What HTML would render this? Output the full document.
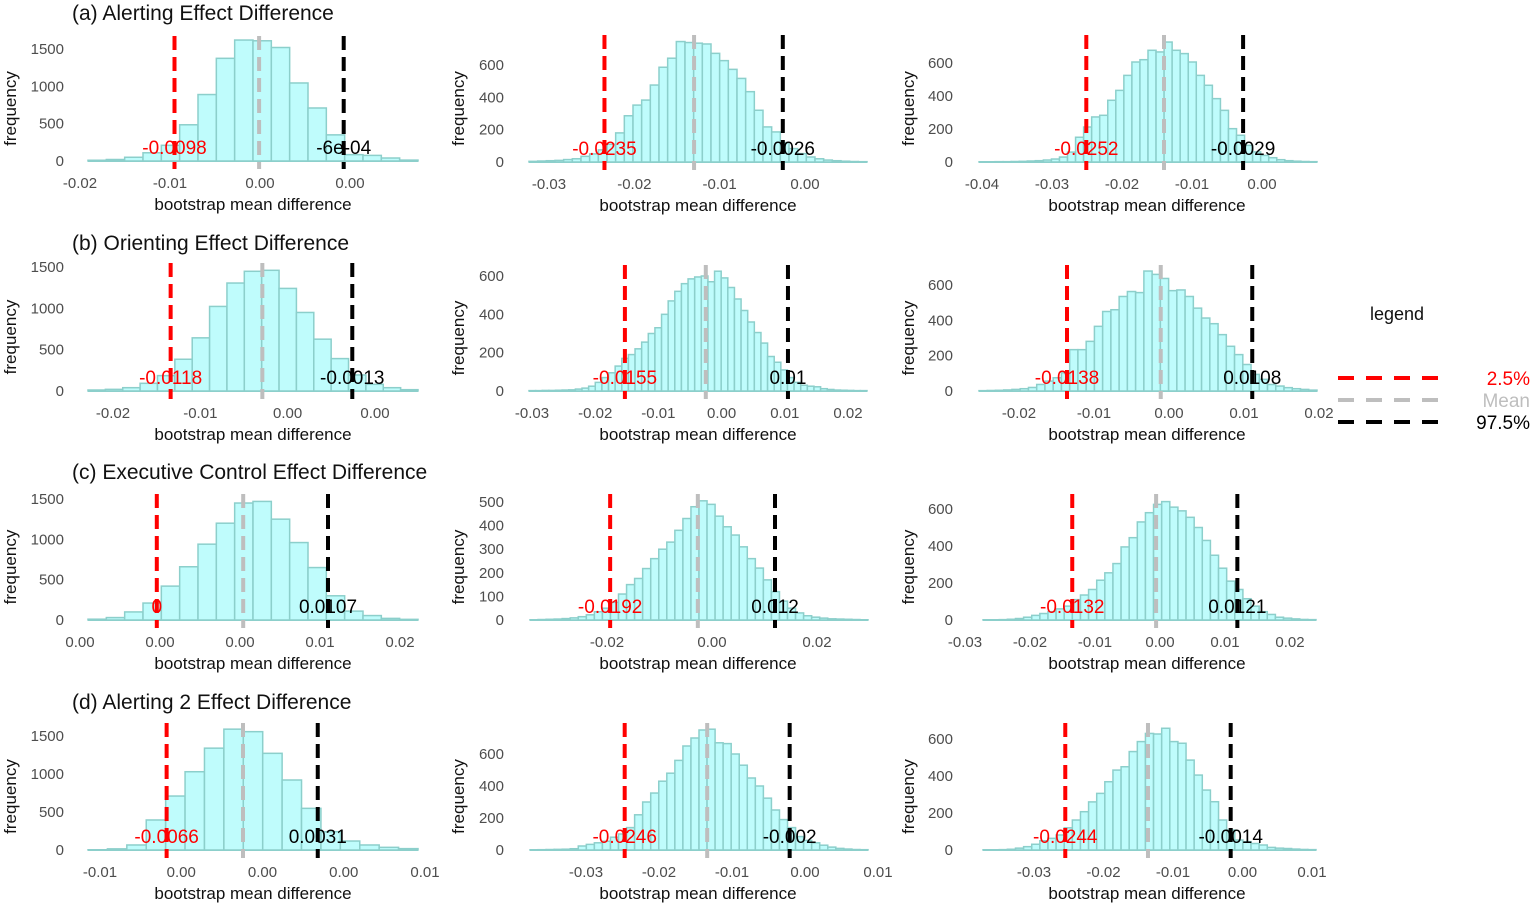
<!DOCTYPE html>
<html><head><meta charset="utf-8">
<style>
html,body{margin:0;padding:0;background:#fff;}
svg{display:block;font-family:"Liberation Sans",Arial,sans-serif;}
</style></head>
<body>
<svg id="chart" width="1535" height="907" viewBox="0 0 1535 907"></svg>
<script>
// ---- data ----
const countsA1=[10,20,50,110,210,485,890,1375,1620,1610,1520,1045,710,350,85,75,40,12];
const countsA2=[4,6,8,10,15,20,35,50,75,110,180,286,352,383,476,586,642,745,739,735,730,672,627,573,517,435,320,217,186,120,83,52,31,20,12,8,5,3,2];
const countsA3=[1,1,2,2,3,4,6,8,12,18,30,60,150,212,273,283,374,434,525,606,620,677,667,727,677,657,606,525,465,384,313,202,162,101,61,40,26,14,8,5,3,2];
const countsB1=[12,20,40,93,186,384,643,1023,1306,1448,1460,1241,950,627,392,194,81,40,16];
const countsB2=[2,2,3,3,4,5,6,10,15,25,45,70,95,130,170,190,220,255,300,330,400,470,520,560,585,595,600,570,625,590,540,480,420,360,305,250,180,150,110,70,45,30,25,22,12,8,5,4,3,2,2];
const countsB3=[2,3,4,6,9,13,20,37,56,75,103,234,234,281,366,450,460,535,563,557,679,660,637,568,572,535,469,413,381,319,253,206,150,94,66,37,28,19,13,9,5];
const countsC1=[10,30,100,210,420,660,940,1200,1450,1470,1250,960,650,300,110,55,20,8];
const countsC2=[1,2,3,4,6,9,14,22,35,50,75,110,150,176,218,260,300,330,380,430,480,505,490,440,395,360,310,260,220,170,120,80,50,30,18,12,8,5,4,3,2,1];
const countsC3=[1,1,2,4,8,15,25,35,45,60,75,110,135,165,215,255,305,395,445,530,580,625,640,610,590,555,500,430,350,280,210,165,115,75,45,30,15,10,6,3,2];
const countsD1=[3,15,66,395,710,1030,1340,1590,1557,1272,921,548,241,118,66,35,18];
const countsD2=[1,2,3,4,5,8,25,35,45,55,80,100,140,220,300,356,430,480,560,650,700,750,755,670,665,600,530,450,400,324,250,190,140,84,60,45,30,18,10,6,3,2];
const countsD3=[1,1,2,4,10,18,31,50,63,81,120,162,207,260,306,369,432,450,532,586,630,627,658,586,577,486,405,324,261,162,108,54,45,35,27,14,10,8,5,3,2];
const lowerVals=[-0.0095,-0.0235,-0.0251,-0.0134,-0.0153,-0.0136,-0.0104,-0.0194,-0.0135,-0.0059,-0.0247,-0.0255];
const meanVals=[-0.0001,-0.0130,-0.0140,-0.0029,-0.0025,-0.0011,0.0004,-0.0027,-0.0006,-0.0012,-0.0134,-0.0136];
const upperVals=[0.0093,-0.0026,-0.0027,0.0074,0.0105,0.0111,0.0110,0.0120,0.0119,0.0034,-0.0021,-0.0017];
const lowerLabels=["-0.0098","-0.0235","-0.0252","-0.0118","-0.0155","-0.0138","0","-0.0192","-0.0132","-0.0066","-0.0246","-0.0244"];
const upperLabels=["-6e-04","-0.0026","-0.0029","-0.0013","0.01","0.0108","0.0107","0.012","0.0121","0.0031","-0.002","-0.0014"];
const titles=["(a) Alerting Effect Difference","(b) Orienting Effect Difference","(c) Executive Control Effect Difference","(d) Alerting 2 Effect Difference"];
const yTicksBig=[0,500,1000,1500];
const yTicks600=[0,200,400,600];
const yTicks500=[0,100,200,300,400,500];
const xTicksA1=[-0.02,-0.01,0,0.01], xLabA1=["-0.02","-0.01","0.00","0.00"];
const xTicksA2=[-0.03,-0.02,-0.01,0], xLabA2=["-0.03","-0.02","-0.01","0.00"];
const xTicksA3=[-0.04,-0.03,-0.02,-0.01,0], xLabA3=["-0.04","-0.03","-0.02","-0.01","0.00"];
const xTicksB2=[-0.03,-0.02,-0.01,0,0.01,0.02], xLabB2=["-0.03","-0.02","-0.01","0.00","0.01","0.02"];
const xTicksB3=[-0.02,-0.01,0,0.01,0.02], xLabB3=["-0.02","-0.01","0.00","0.01","0.02"];
const xTicksC1=[-0.02,-0.01,0,0.01,0.02], xLabC1=["0.00","0.00","0.00","0.01","0.02"];
const xTicksC2=[-0.02,0,0.02], xLabC2=["-0.02","0.00","0.02"];
const xTicksD1=[-0.01,-0.005,0,0.005,0.01], xLabD1=["-0.01","0.00","0.00","0.00","0.01"];
const xTicksD2=[-0.03,-0.02,-0.01,0,0.01], xLabD2=["-0.03","-0.02","-0.01","0.00","0.01"];

// ---- layout (pixels) ----
const panels=[
 {id:'a1',counts:countsA1,v0:-0.02,p0:80,k:9000,h0:88,h1:418,base:161,yRef:1500,yRefPx:49,top:36,yt:yTicksBig,xt:xTicksA1,xl:xLabA1,col:0,row:0},
 {id:'a2',counts:countsA2,v0:-0.03,p0:549,k:8533,h0:529,h1:867,base:162,yRef:600,yRefPx:65,top:35,yt:yTicks600,xt:xTicksA2,xl:xLabA2,col:1,row:0},
 {id:'a3',counts:countsA3,v0:-0.04,p0:982,k:7000,h0:979,h1:1317,base:162,yRef:600,yRefPx:63,top:35,yt:yTicks600,xt:xTicksA3,xl:xLabA3,col:2,row:0},
 {id:'b1',counts:countsB1,v0:-0.02,p0:113,k:8733,h0:88,h1:418,base:391,yRef:1500,yRefPx:267,top:263,yt:yTicksBig,xt:xTicksA1,xl:xLabA1,col:0,row:1},
 {id:'b2',counts:countsB2,v0:-0.03,p0:532,k:6320,h0:529,h1:867,base:391,yRef:600,yRefPx:276,top:265,yt:yTicks600,xt:xTicksB2,xl:xLabB2,col:1,row:1},
 {id:'b3',counts:countsB3,v0:-0.02,p0:1019,k:7500,h0:979,h1:1317,base:391,yRef:600,yRefPx:285,top:265,yt:yTicks600,xt:xTicksB3,xl:xLabB3,col:2,row:1},
 {id:'c1',counts:countsC1,v0:-0.02,p0:80,k:8000,h0:88,h1:418,base:620,yRef:1500,yRefPx:499,top:494,yt:yTicksBig,xt:xTicksC1,xl:xLabC1,col:0,row:2},
 {id:'c2',counts:countsC2,v0:-0.02,p0:607,k:5250,h0:530,h1:868,base:620,yRef:500,yRefPx:502,top:494,yt:yTicks500,xt:xTicksC2,xl:xLabC2,col:1,row:2},
 {id:'c3',counts:countsC3,v0:-0.03,p0:965,k:6500,h0:983,h1:1316,base:620,yRef:600,yRefPx:509,top:494,yt:yTicks600,xt:xTicksB2,xl:xLabB2,col:2,row:2},
 {id:'d1',counts:countsD1,v0:-0.01,p0:100,k:16250,h0:88,h1:418,base:850,yRef:1500,yRefPx:736,top:723,yt:yTicksBig,xt:xTicksD1,xl:xLabD1,col:0,row:3},
 {id:'d2',counts:countsD2,v0:-0.03,p0:586,k:7300,h0:530,h1:868,base:850,yRef:600,yRefPx:754,top:723,yt:yTicks600,xt:xTicksD2,xl:xLabD2,col:1,row:3},
 {id:'d3',counts:countsD3,v0:-0.03,p0:1034,k:6950,h0:983,h1:1316,base:850,yRef:600,yRefPx:739,top:723,yt:yTicks600,xt:xTicksD2,xl:xLabD2,col:2,row:3}
];
const colYLabelX=[64,504,953], colFreqX=[16,464,914], colCenter=[253,698,1147];
const rowTitleY=[20,250,479,709];

const NS='http://www.w3.org/2000/svg';
const svg=document.getElementById('chart');
function mk(tag,attrs,parent,txt){const e=document.createElementNS(NS,tag);for(const a in attrs)e.setAttribute(a,attrs[a]);if(txt!==undefined)e.textContent=txt;(parent||svg).appendChild(e);return e;}

titles.forEach((t,i)=>{
  const e=mk('text',{x:72,y:rowTitleY[i],'font-size':21,fill:'#111'},svg,t);
  
  
});

panels.forEach((p,i)=>{
  const g=mk('g',{});
  
  
  const x=v=>p.p0+(v-p.v0)*p.k;
  const ppc=(p.base-p.yRefPx)/p.yRef;
  const y=c=>p.base-c*ppc;
  const binLo=p.v0+(p.h0-p.p0)/p.k, binHi=p.v0+(p.h1-p.p0)/p.k;
  const n=p.counts.length, w=(binHi-binLo)/n;
  mk('line',{x1:x(binLo),x2:x(binHi),y1:p.base,y2:p.base,stroke:'#8ccfcb','stroke-width':2},g);
  p.counts.forEach((c,j)=>{
    const x0=x(binLo+j*w), x1=x(binLo+(j+1)*w);
    const r=mk('rect',{x:x0,y:y(c),width:x1-x0,height:c*ppc,fill:'#bffcfc',stroke:'#8ccfcb','stroke-width':1.5},g);
    
    
  });
  p.yt.forEach(t=>{
    const e=mk('text',{x:colYLabelX[p.col],y:y(t)+5,'text-anchor':'end','font-size':15,fill:'#4d4d4d'},g,String(t));
    
    
  });
  const fy=(p.base+p.top)/2+10;
  const yt=mk('text',{x:colFreqX[p.col],y:fy,'text-anchor':'middle','font-size':17,fill:'#111',transform:'rotate(-90 '+colFreqX[p.col]+' '+fy+')'},g,'frequency');
  
  
  p.xt.forEach((t,j)=>{
    const e=mk('text',{x:x(t),y:p.base+27,'text-anchor':'middle','font-size':15,fill:'#4d4d4d'},g,p.xl[j]);
    
    
  });
  const xtEl=mk('text',{x:colCenter[p.col],y:p.base+49,'text-anchor':'middle','font-size':17,fill:'#111'},g,'bootstrap mean difference');
  
  
  const ll=mk('text',{x:x(lowerVals[i]),y:p.base-7,'text-anchor':'middle','font-size':19,fill:'#ff0000'},g,lowerLabels[i]);
  
  
  const ul=mk('text',{x:x(upperVals[i]),y:p.base-7,'text-anchor':'middle','font-size':19,fill:'#000'},g,upperLabels[i]);
  
  
  [[lowerVals[i],'#ff0000','lower-ci-line'],[meanVals[i],'#bebebe','mean-line'],[upperVals[i],'#000000','upper-ci-line']].forEach(([v,c,nm])=>{
    const l=mk('line',{x1:x(v),x2:x(v),y1:p.top,y2:p.base+8,stroke:c,'stroke-width':4,'stroke-dasharray':'14,7'},g);
    
    
  });
});

const lg=mk('g',{});


const lt=mk('text',{x:1397,y:320,'text-anchor':'middle','font-size':18,fill:'#111'},lg,'legend');


[['2.5%','#ff0000',378],['Mean','#bebebe',400],['97.5%','#000000',422]].forEach(([t,c,yy])=>{
  const l=mk('line',{x1:1338,x2:1446,y1:yy,y2:yy,stroke:c,'stroke-width':4,'stroke-dasharray':'16,12'},lg);
  
  
  const e=mk('text',{x:1530,y:yy+7,'text-anchor':'end','font-size':19,fill:c},lg,t);
  
  
});
</script>
</body></html>
